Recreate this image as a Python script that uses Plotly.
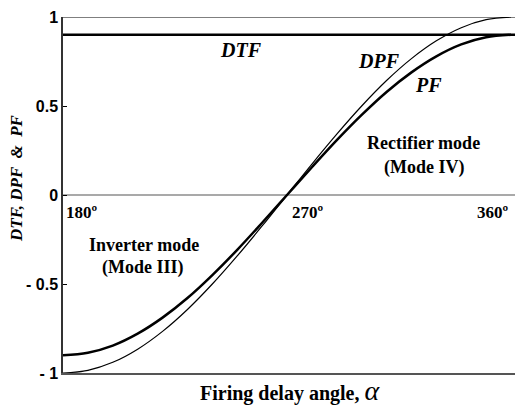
import plotly.graph_objects as go

# Firing delay angle (degrees)
alpha = [180, 190, 200, 210, 220, 230, 240, 250, 260, 270,
         280, 290, 300, 310, 320, 330, 340, 350, 360]
# Displacement power factor
dpf = [-1.0, -0.985, -0.94, -0.866, -0.766, -0.643, -0.5, -0.342, -0.174, 0.0,
       0.174, 0.342, 0.5, 0.643, 0.766, 0.866, 0.94, 0.985, 1.0]
# Power factor
pf = [-0.9, -0.886, -0.846, -0.779, -0.689, -0.579, -0.45, -0.308, -0.156, 0.0,
      0.156, 0.308, 0.45, 0.579, 0.689, 0.779, 0.846, 0.886, 0.9]
# Distortion factor (constant)
dtf_value = 0.9

y_ticks = [1, 0.5, 0, -0.5, -1]
y_tick_labels = ["1", "0.5", "0", "- 0.5", "- 1"]
angle_labels = ["180º", "270º", "360º"]
angle_positions = [180, 270, 360]

serif = "Liberation Serif, Times New Roman, serif"
sans = "Liberation Sans, Arial, sans-serif"

W, H = 515, 405
L, R, T, B = 63, 0, 17, 32
x_max = 361.6

fig = go.Figure()
fig.add_trace(go.Scatter(x=[180, x_max], y=[dtf_value, dtf_value], mode="lines",
                         line=dict(color="black", width=2.5), showlegend=False,
                         cliponaxis=False))
fig.add_trace(go.Scatter(x=alpha, y=dpf, mode="lines", line_shape="spline",
                         line=dict(color="black", width=1.2), showlegend=False))
fig.add_trace(go.Scatter(x=alpha, y=pf, mode="lines", line_shape="spline",
                         line=dict(color="black", width=2.5), showlegend=False))

# zero line and top frame
fig.add_shape(type="line", xref="paper", yref="y", x0=0, x1=1, y0=0, y1=0,
              line=dict(color="#555", width=1.2), layer="below")
fig.add_shape(type="line", xref="paper", yref="y", x0=0, x1=1, y0=1, y1=1,
              line=dict(color="#555", width=1.5), layer="below")

def lab(x, y, text, size=20, italic=True, xanchor="center"):
    t = "<b><i>%s</i></b>" % text if italic else "<b>%s</b>" % text
    fig.add_annotation(x=x, y=y, xref="x", yref="y", text=t, showarrow=False,
                       font=dict(family=serif, size=size, color="black"),
                       xanchor=xanchor, yanchor="middle")

lab(251.5, 0.815, "DTF")
lab(307.0, 0.753, "DPF")
lab(326.9, 0.618, "PF")
lab(325.0, 0.29, "Rectifier mode", size=18, italic=False)
lab(325.0, 0.157, "(Mode IV)", size=18, italic=False)
lab(212.5, -0.28, "Inverter mode", size=18, italic=False)
lab(212.0, -0.41, "(Mode III)", size=18, italic=False)
for pos, txt, anc, dx in zip(angle_positions, angle_labels,
                             ["left", "left", "right"], [0.3, 1.2, -0.2]):
    fig.add_annotation(x=pos + dx, y=-0.1, xref="x", yref="y",
                       text="<b>%s</b>" % txt, showarrow=False,
                       font=dict(family=serif, size=17, color="black"),
                       xanchor=anc, yanchor="middle")

pw = W - L - R
ph = H - T - B
# axis titles as paper annotations
fig.add_annotation(x=(290 - L) / pw, y=-(390 - (H - B)) / ph,
                   xref="paper", yref="paper", showarrow=False,
                   text="<b>Firing delay angle, </b><i><span style='font-size:28px'>α</span></i>",
                   font=dict(family=serif, size=20, color="black"),
                   xanchor="center", yanchor="middle")
fig.add_annotation(x=(16 - L) / pw, y=(H - B - 178) / ph,
                   xref="paper", yref="paper", showarrow=False, textangle=-90,
                   text="<b><i>DTF, DPF &nbsp;&amp;&nbsp; PF</i></b>",
                   font=dict(family=serif, size=17, color="black"),
                   xanchor="center", yanchor="middle")

fig.update_layout(
    width=W, height=H,
    margin=dict(l=L, r=R, t=T, b=B, pad=0),
    plot_bgcolor="white", paper_bgcolor="white",
    xaxis=dict(range=[180, x_max], showticklabels=False, ticks="",
               showgrid=False, zeroline=False, showline=True, automargin=False,
               linecolor="#555", linewidth=1.5),
    yaxis=dict(range=[-1, 1], tickvals=y_ticks, ticktext=y_tick_labels,
               ticks="inside", ticklen=4, tickcolor="black", automargin=False,
               tickfont=dict(family=sans, size=16, color="black", weight="bold"),
               showgrid=False, zeroline=False, showline=True,
               linecolor="#333", linewidth=1.5),
)

fig.write_html("out.html", config={"displayModeBar": False},
               post_script="document.body.style.margin='0';document.body.style.overflow='hidden';")
